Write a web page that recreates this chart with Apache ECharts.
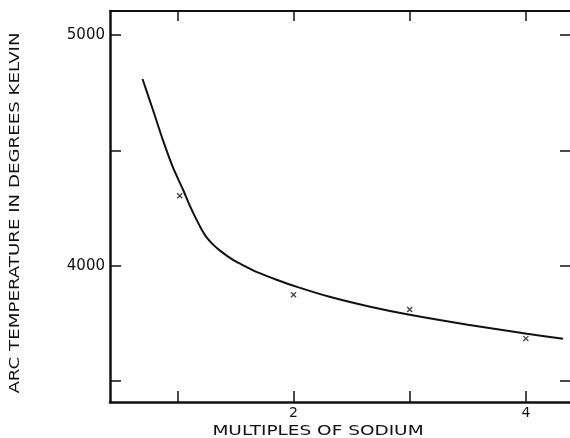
<!DOCTYPE html>
<html>
<head>
<meta charset="utf-8">
<script src="https://cdn.jsdelivr.net/npm/echarts@6/dist/echarts.min.js"></script>
<style>html,body{margin:0;padding:0;background:#fff}#c{width:570px;height:438px}</style>
</head>
<body>
<div id="c"></div>
<script>
// Smooth fitted curve (multiples of sodium, arc temperature K)
var curveX = [0.70, 0.79, 0.875, 0.96, 1.05, 1.11, 1.17, 1.21, 1.25, 1.31, 1.37, 1.44, 1.51, 1.60, 1.68, 1.86, 2.03, 2.31, 2.65, 3.00, 3.50, 4.01, 4.32];
var curveY = [4809, 4675, 4545, 4428, 4328, 4257, 4194, 4156, 4124, 4090, 4064, 4038, 4016, 3993, 3973, 3938, 3908, 3865, 3823, 3787, 3744, 3705, 3683];
// Measured points (crosses)
var pointX = [1.02, 2.0, 3.0, 4.0];
var pointY = [4303, 3874, 3810, 3684];
// Ticks and labels
var xTicks = [1, 2, 3, 4];
var xLabels = [2, 4];
var yTicks = [3500, 4000, 4500, 5000];
var yLabels = [4000, 5000];
var xTitle = 'MULTIPLES OF SODIUM';
var yTitle = 'ARC TEMPERATURE IN DEGREES KELVIN';

var font = 'DejaVu Sans';
var ink = '#111';

var chart = echarts.init(document.getElementById('c'), null, {renderer: 'canvas'});
var crossPath = 'path://M0,1.5L1.5,0L5,3.5L8.5,0L10,1.5L6.5,5L10,8.5L8.5,10L5,6.5L1.5,10L0,8.5L3.5,5Z';
function plain(v) { return String(v); }

chart.setOption({
  animation: false,
  backgroundColor: '#fff',
  grid: {left: 110, top: 11, right: 0, bottom: 36},
  xAxis: [{
    type: 'value', position: 'bottom', min: 0.42, max: 4.38,
    axisLine: {show: true, lineStyle: {color: ink, width: 2.5}},
    axisTick: {show: true, inside: true, length: 11, customValues: xTicks, lineStyle: {color: ink, width: 1.5}},
    axisLabel: {show: true, customValues: xLabels, formatter: plain, margin: 4, fontSize: 14, fontFamily: font, color: ink},
    splitLine: {show: false}
  }, {
    type: 'value', position: 'top', min: 0.42, max: 4.38,
    axisLine: {show: true, lineStyle: {color: ink, width: 1.8}},
    axisTick: {show: true, inside: true, length: 10, customValues: xTicks, lineStyle: {color: ink, width: 1.5}},
    axisLabel: {show: false},
    splitLine: {show: false}
  }],
  yAxis: [{
    type: 'value', position: 'left', min: 3409, max: 5104,
    axisLine: {show: true, lineStyle: {color: ink, width: 2.5}},
    axisTick: {show: true, inside: true, length: 11, customValues: yTicks, lineStyle: {color: ink, width: 1.5}},
    axisLabel: {show: true, customValues: yLabels, formatter: plain, margin: 5, fontSize: 15, fontFamily: font, color: ink},
    splitLine: {show: false}
  }, {
    type: 'value', position: 'right', min: 3409, max: 5104,
    axisLine: {show: false},
    axisTick: {show: true, inside: true, length: 10, customValues: yTicks, lineStyle: {color: ink, width: 1.5}},
    axisLabel: {show: false},
    splitLine: {show: false}
  }],
  graphic: [{
    type: 'text', x: 318, y: 431, scaleX: 1.32,
    style: {text: xTitle, font: '14px "' + font + '"', fill: ink, textAlign: 'center', textVerticalAlign: 'middle'}
  }, {
    type: 'text', x: 15, y: 213, rotation: Math.PI / 2, scaleX: 1.3,
    style: {text: yTitle, font: '14px "' + font + '"', fill: ink, textAlign: 'center', textVerticalAlign: 'middle'}
  }],
  series: [{
    type: 'line', xAxisIndex: 0, yAxisIndex: 0,
    data: curveX.map(function (x, i) { return [x, curveY[i]]; }),
    smooth: 0.3, symbol: 'none',
    lineStyle: {color: ink, width: 2}
  }, {
    type: 'scatter', xAxisIndex: 0, yAxisIndex: 0,
    data: pointX.map(function (x, i) { return [x, pointY[i]]; }),
    symbol: crossPath, symbolSize: 6,
    itemStyle: {color: ink}
  }]
});
</script>
</body>
</html>
